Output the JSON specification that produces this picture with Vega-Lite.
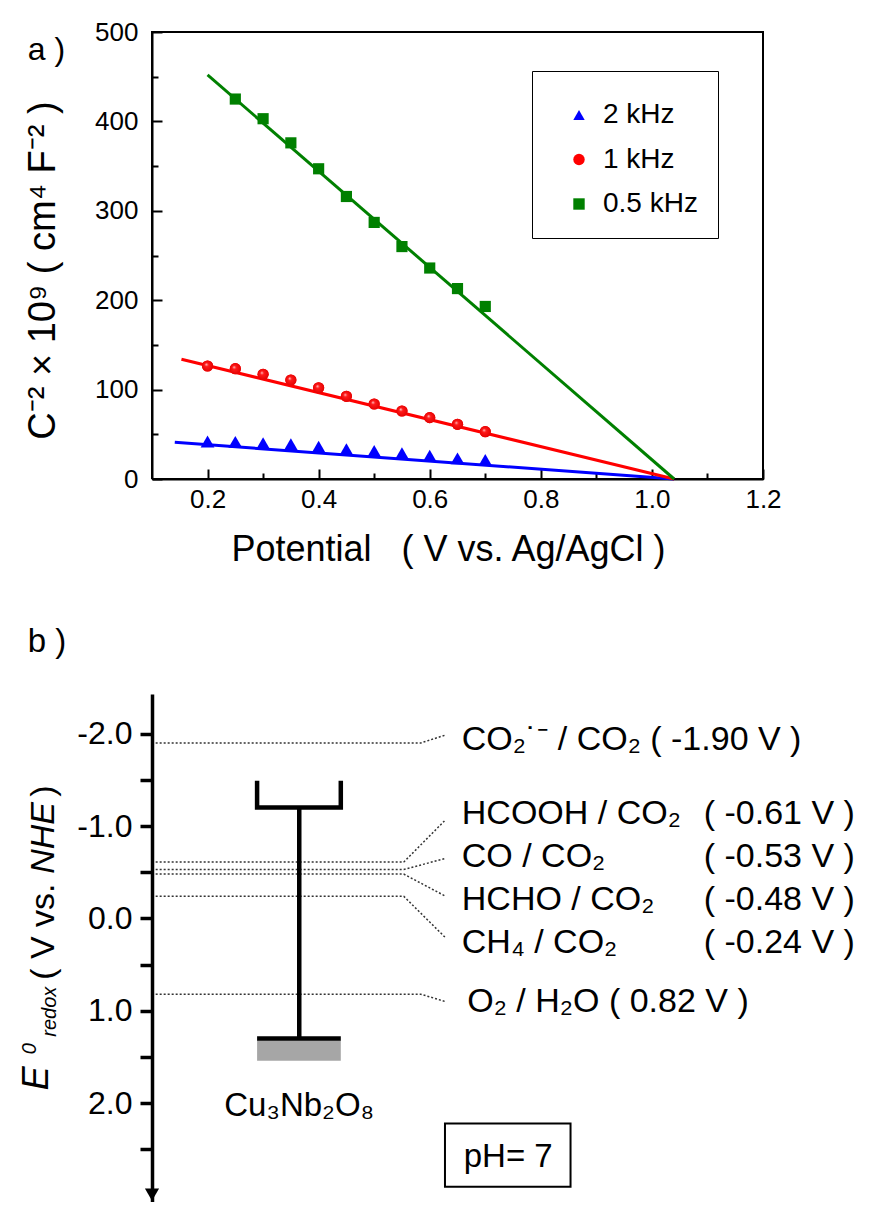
{
  "$schema": "https://vega.github.io/schema/vega-lite/v6.json",
  "padding": {"left": 19, "top": 19, "right": 5, "bottom": 0},
  "background": "white",
  "spacing": 58,
  "config": {
    "font": "Liberation Sans",
    "view": {"stroke": null},
    "axis": {"grid": false, "labelColor": "black", "titleColor": "black", "domainColor": "black", "tickColor": "black", "titleFontWeight": "normal", "labelOverlap": false, "labelFlush": false},
    "text": {"color": "black"}
  },
  "datasets": {
    "points": [
      {"frequency": "2 kHz", "potential": 0.2, "value": 42},
      {"frequency": "2 kHz", "potential": 0.25, "value": 41.5},
      {"frequency": "2 kHz", "potential": 0.3, "value": 40},
      {"frequency": "2 kHz", "potential": 0.35, "value": 38.8},
      {"frequency": "2 kHz", "potential": 0.4, "value": 36},
      {"frequency": "2 kHz", "potential": 0.45, "value": 33.2},
      {"frequency": "2 kHz", "potential": 0.5, "value": 31.3},
      {"frequency": "2 kHz", "potential": 0.55, "value": 28.7},
      {"frequency": "2 kHz", "potential": 0.6, "value": 26.1},
      {"frequency": "2 kHz", "potential": 0.65, "value": 23.1},
      {"frequency": "2 kHz", "potential": 0.7, "value": 21.3},
      {"frequency": "1 kHz", "potential": 0.2, "value": 126.4},
      {"frequency": "1 kHz", "potential": 0.25, "value": 123.4},
      {"frequency": "1 kHz", "potential": 0.3, "value": 117.1},
      {"frequency": "1 kHz", "potential": 0.35, "value": 110.7},
      {"frequency": "1 kHz", "potential": 0.4, "value": 102.1},
      {"frequency": "1 kHz", "potential": 0.45, "value": 92.5},
      {"frequency": "1 kHz", "potential": 0.5, "value": 83.9},
      {"frequency": "1 kHz", "potential": 0.55, "value": 76.1},
      {"frequency": "1 kHz", "potential": 0.6, "value": 68.6},
      {"frequency": "1 kHz", "potential": 0.65, "value": 61.2},
      {"frequency": "1 kHz", "potential": 0.7, "value": 52.9},
      {"frequency": "0.5 kHz", "potential": 0.25, "value": 425},
      {"frequency": "0.5 kHz", "potential": 0.3, "value": 403},
      {"frequency": "0.5 kHz", "potential": 0.35, "value": 376},
      {"frequency": "0.5 kHz", "potential": 0.4, "value": 347},
      {"frequency": "0.5 kHz", "potential": 0.45, "value": 316},
      {"frequency": "0.5 kHz", "potential": 0.5, "value": 287},
      {"frequency": "0.5 kHz", "potential": 0.55, "value": 260},
      {"frequency": "0.5 kHz", "potential": 0.6, "value": 236},
      {"frequency": "0.5 kHz", "potential": 0.65, "value": 213},
      {"frequency": "0.5 kHz", "potential": 0.7, "value": 193}
    ],
    "fits": [
      {"frequency": "2 kHz", "potential": 0.141, "value": 41},
      {"frequency": "2 kHz", "potential": 1.04, "value": 0},
      {"frequency": "1 kHz", "potential": 0.153, "value": 134},
      {"frequency": "1 kHz", "potential": 1.04, "value": 0},
      {"frequency": "0.5 kHz", "potential": 0.2, "value": 452},
      {"frequency": "0.5 kHz", "potential": 1.04, "value": 0}
    ],
    "frame": [
      {"seq": 1, "potential": 0.1, "value": 0},
      {"seq": 2, "potential": 1.2, "value": 0},
      {"seq": 3, "potential": 1.2, "value": 500},
      {"seq": 4, "potential": 0.1, "value": 500},
      {"seq": 5, "potential": 0.1, "value": 0}
    ],
    "leaders": [
      {"couple": "CO2-", "seq": 1, "u": 0.6, "E": -1.90},
      {"couple": "CO2-", "seq": 2, "u": 44.0, "E": -1.90},
      {"couple": "CO2-", "seq": 3, "u": 48.0, "E": -1.985},
      {"couple": "HCOOH", "seq": 1, "u": 0.6, "E": -0.61},
      {"couple": "HCOOH", "seq": 2, "u": 41.2, "E": -0.61},
      {"couple": "HCOOH", "seq": 3, "u": 48.0, "E": -1.065},
      {"couple": "CO", "seq": 1, "u": 0.6, "E": -0.53},
      {"couple": "CO", "seq": 2, "u": 41.2, "E": -0.53},
      {"couple": "CO", "seq": 3, "u": 48.0, "E": -0.649},
      {"couple": "HCHO", "seq": 1, "u": 0.6, "E": -0.48},
      {"couple": "HCHO", "seq": 2, "u": 41.2, "E": -0.48},
      {"couple": "HCHO", "seq": 3, "u": 48.0, "E": -0.242},
      {"couple": "CH4", "seq": 1, "u": 0.6, "E": -0.24},
      {"couple": "CH4", "seq": 2, "u": 41.2, "E": -0.24},
      {"couple": "CH4", "seq": 3, "u": 48.0, "E": 0.206},
      {"couple": "O2", "seq": 1, "u": 0.6, "E": 0.82},
      {"couple": "O2", "seq": 2, "u": 44.0, "E": 0.82},
      {"couple": "O2", "seq": 3, "u": 48.0, "E": 0.90}
    ],
    "bands": [
      {"part": "CB", "seq": 1, "u": 17.2, "E": -1.49},
      {"part": "CB", "seq": 2, "u": 17.2, "E": -1.20},
      {"part": "CB", "seq": 3, "u": 30.9, "E": -1.20},
      {"part": "CB", "seq": 4, "u": 30.9, "E": -1.49},
      {"part": "stem", "seq": 1, "u": 24.1, "E": -1.20},
      {"part": "stem", "seq": 2, "u": 24.1, "E": 1.30},
      {"part": "VB", "seq": 1, "u": 17.2, "E": 1.30},
      {"part": "VB", "seq": 2, "u": 30.9, "E": 1.30}
    ],
    "labels": [
      {"label": "CO₂˙⁻ / CO₂ ( -1.90 V )", "u": 50.7, "E": -1.934},
      {"label": "HCOOH / CO₂", "u": 50.7, "E": -1.136},
      {"label": "( -0.61 V )", "u": 90.3, "E": -1.136},
      {"label": "CO / CO₂", "u": 50.7, "E": -0.668},
      {"label": "( -0.53 V )", "u": 90.3, "E": -0.668},
      {"label": "HCHO / CO₂", "u": 50.7, "E": -0.199},
      {"label": "( -0.48 V )", "u": 90.3, "E": -0.199},
      {"label": "CH₄ / CO₂", "u": 50.7, "E": 0.27},
      {"label": "( -0.24 V )", "u": 90.3, "E": 0.27},
      {"label": "O₂ / H₂O ( 0.82 V )", "u": 51.6, "E": 0.90}
    ]
  },
  "vconcat": [
    {
      "width": 611,
      "height": 447,
      "resolve": {"axis": {"x": "independent", "y": "independent"}},
      "encoding": {
        "x": {"field": "potential", "type": "quantitative", "scale": {"domain": [0.1, 1.2], "nice": false, "zero": false}, "axis": null},
        "y": {"field": "value", "type": "quantitative", "scale": {"domain": [0, 500], "nice": false, "zero": false}, "axis": null}
      },
      "layer": [
        {
          "data": {"name": "frame"},
          "mark": {"type": "line", "strokeWidth": 2, "color": "#000000", "strokeJoin": "miter"},
          "encoding": {"order": {"field": "seq", "type": "quantitative"}}
        },
        {
          "data": {"name": "fits"},
          "transform": [{"filter": "datum.frequency == '2 kHz'"}],
          "mark": {"type": "line", "strokeWidth": 3, "color": "#0000ff"},
          "encoding": {
            "x": {
              "field": "potential", "type": "quantitative",
              "scale": {"domain": [0.1, 1.2], "nice": false, "zero": false},
              "axis": {
                "orient": "bottom",
                "title": "Potential\u00a0\u00a0\u00a0(\u00a0V vs. Ag/AgCl\u00a0)",
                "titleX": 296,
                "values": [0.2, 0.4, 0.6, 0.8, 1.0, 1.2],
                "format": ".1f",
                "tickSize": -10,
                "tickWidth": 2, "domainWidth": 2,
                "labelFontSize": 26, "labelPadding": 17,
                "titleFontSize": 36, "titlePadding": 20
              }
            },
            "y": {
              "field": "value", "type": "quantitative",
              "scale": {"domain": [0, 500], "nice": false, "zero": false},
              "axis": {
                "orient": "left",
                "title": "C⁻² × 10⁹ ( cm⁴ F⁻² )",
                "titleY": 238,
                "values": [0, 100, 200, 300, 400, 500],
                "format": "d",
                "tickSize": -10,
                "tickWidth": 2, "domainWidth": 2,
                "labelFontSize": 26, "labelPadding": 24,
                "titleFontSize": 38, "titlePadding": 32
              }
            }
          }
        },
        {
          "data": {"name": "fits"},
          "transform": [{"filter": "datum.frequency == '1 kHz'"}],
          "mark": {"type": "line", "strokeWidth": 3, "color": "#ff0000"},
          "encoding": {
            "x": {
              "field": "potential", "type": "quantitative",
              "scale": {"domain": [0.1, 1.2], "nice": false, "zero": false},
              "axis": {"orient": "bottom", "title": null, "labels": false, "domain": false, "values": [0.3, 0.5, 0.7, 0.9, 1.1], "tickSize": -6, "tickWidth": 2}
            },
            "y": {
              "field": "value", "type": "quantitative",
              "scale": {"domain": [0, 500], "nice": false, "zero": false},
              "axis": {"orient": "left", "title": null, "labels": false, "domain": false, "values": [50, 150, 250, 350, 450], "tickSize": -6, "tickWidth": 2}
            }
          }
        },
        {
          "data": {"name": "fits"},
          "transform": [{"filter": "datum.frequency == '0.5 kHz'"}],
          "mark": {"type": "line", "strokeWidth": 3, "color": "#008000"}
        },
        {
          "data": {"name": "points"},
          "transform": [{"filter": "datum.frequency == '2 kHz'"}],
          "mark": {"type": "point", "filled": true, "size": 190, "opacity": 1},
          "encoding": {
            "color": {"field": "frequency", "type": "nominal",
              "scale": {"domain": ["2 kHz", "1 kHz", "0.5 kHz"], "range": ["#0000ff", "#ff0000", "#008000"]},
              "legend": {"orient": "none", "legendX": 380, "legendY": 39, "direction": "vertical", "title": "\u00a0", "titleFontSize": 10, "titlePadding": 0, "strokeColor": "black", "fillColor": "white", "padding": 20, "labelFontSize": 28, "labelColor": "black", "symbolSize": 130, "rowPadding": 16.5, "symbolOffset": 13, "labelOffset": 10}},
            "shape": {"field": "frequency", "type": "nominal",
              "scale": {"domain": ["2 kHz", "1 kHz", "0.5 kHz"], "range": ["triangle-up", "circle", "square"]},
              "legend": {"orient": "none", "legendX": 380, "legendY": 39, "direction": "vertical", "title": "\u00a0", "titleFontSize": 10, "titlePadding": 0, "strokeColor": "black", "fillColor": "white", "padding": 20, "labelFontSize": 28, "labelColor": "black", "symbolSize": 130, "rowPadding": 16.5, "symbolOffset": 13, "labelOffset": 10}}
          }
        },
        {
          "data": {"name": "points"},
          "transform": [{"filter": "datum.frequency != '2 kHz'"}],
          "mark": {"type": "point", "filled": true, "size": 125, "opacity": 1},
          "encoding": {
            "color": {"field": "frequency", "type": "nominal",
              "scale": {"domain": ["2 kHz", "1 kHz", "0.5 kHz"], "range": ["#0000ff", "#ff0000", "#008000"]},
              "legend": {"orient": "none", "legendX": 380, "legendY": 39, "direction": "vertical", "title": "\u00a0", "titleFontSize": 10, "titlePadding": 0, "strokeColor": "black", "fillColor": "white", "padding": 20, "labelFontSize": 28, "labelColor": "black", "symbolSize": 130, "rowPadding": 16.5, "symbolOffset": 13, "labelOffset": 10}},
            "shape": {"field": "frequency", "type": "nominal",
              "scale": {"domain": ["2 kHz", "1 kHz", "0.5 kHz"], "range": ["triangle-up", "circle", "square"]},
              "legend": {"orient": "none", "legendX": 380, "legendY": 39, "direction": "vertical", "title": "\u00a0", "titleFontSize": 10, "titlePadding": 0, "strokeColor": "black", "fillColor": "white", "padding": 20, "labelFontSize": 28, "labelColor": "black", "symbolSize": 130, "rowPadding": 16.5, "symbolOffset": 13, "labelOffset": 10}}
          }
        },
        {
          "data": {"name": "points"},
          "transform": [{"filter": "datum.frequency == '1 kHz'"}],
          "mark": {"type": "point", "shape": "circle", "filled": true, "size": 125, "opacity": 1,
            "fill": {"gradient": "radial", "x1": 0.38, "y1": 0.35, "r1": 0, "x2": 0.5, "y2": 0.5, "r2": 0.55,
              "stops": [{"offset": 0, "color": "#ffd0d0"}, {"offset": 0.3, "color": "#ff1a1a"}, {"offset": 1, "color": "#e00000"}]}}
        },
        {
          "data": {"values": [{"tag": "a )", "potential": -0.09, "value": 480}]},
          "mark": {"type": "text", "fontSize": 32, "align": "center", "baseline": "middle"},
          "encoding": {"text": {"field": "tag"}}
        }
      ]
    },
    {
      "width": 611,
      "height": 508,
      "encoding": {
        "x": {"field": "u", "type": "quantitative", "scale": {"domain": [0, 100], "nice": false, "zero": false}, "axis": null},
        "y": {
          "field": "E", "type": "quantitative",
          "scale": {"domain": [-2.43, 3.07], "reverse": true, "nice": false, "zero": false},
          "axis": {
            "title": null, "orient": "left",
            "values": [-2, -1.5, -1, -0.5, 0, 0.5, 1, 1.5, 2, 2.5],
            "labelExpr": "datum.value % 1 == 0 ? replace(format(datum.value, '.1f'), '\u2212', '-') : ''",
            "tickSize": 12, "tickWidth": 3.5, "domainWidth": 3.5,
            "labelFontSize": 32, "labelPadding": 8
          }
        }
      },
      "layer": [
        {
          "data": {"name": "leaders"},
          "mark": {"type": "line", "strokeDash": [2, 2], "strokeWidth": 1.5, "color": "#333333"},
          "encoding": {"detail": {"field": "couple"}, "order": {"field": "seq", "type": "quantitative"}}
        },
        {
          "data": {"values": [{"u": 17.2, "u2": 30.9, "E": 1.32, "E2": 1.54}]},
          "mark": {"type": "rect", "color": "#a6a6a6"},
          "encoding": {"x2": {"field": "u2"}, "y2": {"field": "E2"}}
        },
        {
          "data": {"name": "bands"},
          "mark": {"type": "line", "strokeWidth": 4.5, "color": "black", "strokeJoin": "miter"},
          "encoding": {"detail": {"field": "part"}, "order": {"field": "seq", "type": "quantitative"}}
        },
        {
          "data": {"values": [{"u": 0, "E": 2.99}]},
          "mark": {"type": "point", "shape": "triangle-down", "filled": true, "size": 200, "color": "black", "opacity": 1}
        },
        {
          "data": {"name": "labels"},
          "mark": {"type": "text", "fontSize": 34, "align": "left", "baseline": "middle"},
          "encoding": {"text": {"field": "label"}}
        },
        {
          "data": {"values": [{"u": 47.95, "u2": 68.5, "E": 2.219, "E2": 2.904}]},
          "mark": {"type": "rect", "fill": "white", "stroke": "black", "strokeWidth": 2},
          "encoding": {"x2": {"field": "u2"}, "y2": {"field": "E2"}}
        },
        {
          "data": {"values": [
            {"label": "Cu₃Nb₂O₈", "u": 24.1, "E": 2.03},
            {"label": "pH= 7", "u": 58.3, "E": 2.58},
            {"label": "b )", "u": -17.2, "E": -2.995}
          ]},
          "mark": {"type": "text", "fontSize": 33, "align": "center", "baseline": "middle"},
          "encoding": {"text": {"field": "label"}}
        },
        {
          "data": {"values": [{"t": "E", "u": -17.02, "E": 1.86}]},
          "mark": {"type": "text", "fontSize": 36, "fontStyle": "italic", "angle": 270, "align": "left", "baseline": "alphabetic"},
          "encoding": {"text": {"field": "t"}}
        },
        {
          "data": {"values": [{"t": "0", "u": -18.99, "E": 1.47}, {"t": "redox", "u": -15.71, "E": 1.28}]},
          "mark": {"type": "text", "fontSize": 20, "fontStyle": "italic", "angle": 270, "align": "left", "baseline": "alphabetic"},
          "encoding": {"text": {"field": "t"}}
        },
        {
          "data": {"values": [{"t": "( V vs.", "u": -16.04, "E": 0.664}, {"t": ")", "u": -16.04, "E": -1.317}]},
          "mark": {"type": "text", "fontSize": 34, "angle": 270, "align": "left", "baseline": "alphabetic"},
          "encoding": {"text": {"field": "t"}}
        },
        {
          "data": {"values": [{"t": "NHE", "u": -16.04, "E": -0.483}]},
          "mark": {"type": "text", "fontSize": 34, "fontStyle": "italic", "angle": 270, "align": "left", "baseline": "alphabetic"},
          "encoding": {"text": {"field": "t"}}
        }
      ]
    }
  ]
}
